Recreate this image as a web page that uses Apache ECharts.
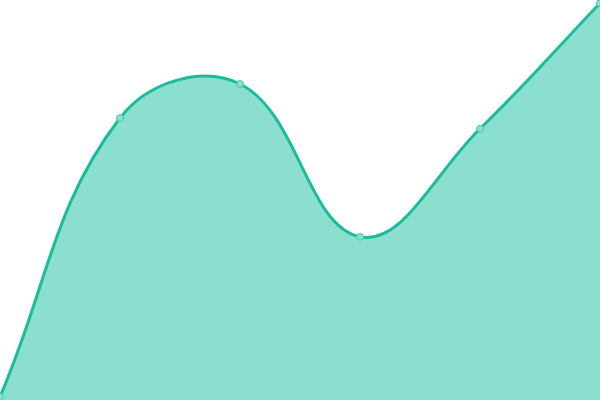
<!DOCTYPE html>
<html>
<head>
<meta charset="utf-8">
<script src="https://cdn.jsdelivr.net/npm/echarts@6/dist/echarts.min.js"></script>
<style>html,body{margin:0;padding:0;background:#fff}#c{width:600px;height:400px}</style>
</head>
<body>
<div id="c"></div>
<script>
const categories = ['A', 'B', 'C', 'D', 'E', 'F'];
const values = [0.8, 70.5, 79, 40.8, 67.8, 99.2];

const LINE = '#1abc9c';
const AREA = '#8adfcf';
const TENSION = 0.4;

// Cardinal-style bezier smoothing of the projected points
function buildPath(pts, W, H) {
  const n = pts.length;
  const cps = pts.map((cur, i) => {
    const prev = pts[i - 1] || cur, next = pts[i + 1] || cur;
    const d01 = Math.hypot(cur[0] - prev[0], cur[1] - prev[1]);
    const d12 = Math.hypot(next[0] - cur[0], next[1] - cur[1]);
    let s01 = d01 / (d01 + d12), s12 = d12 / (d01 + d12);
    s01 = isNaN(s01) ? 0 : s01; s12 = isNaN(s12) ? 0 : s12;
    const fa = TENSION * s01, fb = TENSION * s12;
    const c = (x, y) => [Math.max(0, Math.min(W, x)), Math.max(0, Math.min(H, y))];
    return {
      prev: c(cur[0] - fa * (next[0] - prev[0]), cur[1] - fa * (next[1] - prev[1])),
      next: c(cur[0] + fb * (next[0] - prev[0]), cur[1] + fb * (next[1] - prev[1]))
    };
  });
  let d = 'M' + pts[0][0] + ' ' + pts[0][1];
  for (let i = 1; i < n; i++) {
    const a = cps[i - 1].next, b = cps[i].prev, p = pts[i];
    d += ' C' + a[0] + ' ' + a[1] + ' ' + b[0] + ' ' + b[1] + ' ' + p[0] + ' ' + p[1];
  }
  return d;
}

const chart = echarts.init(document.getElementById('c'), null, {renderer: 'canvas'});
chart.setOption({
  animation: false,
  grid: {left: 0, right: 0, top: 0, bottom: 0},
  xAxis: {type: 'category', data: categories, boundaryGap: false, show: false},
  yAxis: {type: 'value', min: 0, max: 100, show: false},
  series: [{
    type: 'custom',
    data: [0],
    clip: false,
    renderItem: function (params, api) {
      const pts = values.map((v, i) => api.coord([i, v]));
      const base = api.coord([0, 0])[1];
      const W = api.getWidth(), H = api.getHeight();
      const curve = buildPath(pts, W, H);
      const last = pts[pts.length - 1], first = pts[0];
      const areaPath = curve + ' L' + last[0] + ' ' + base + ' L' + first[0] + ' ' + base + ' Z';
      return {
        type: 'group',
        children: [
          {type: 'path', shape: {pathData: areaPath}, style: {fill: AREA, stroke: null}},
          {type: 'path', shape: {pathData: curve}, style: {fill: null, stroke: LINE, lineWidth: 3}}
        ]
      };
    },
    z: 1
  }, {
    type: 'line',
    data: values,
    symbol: 'circle',
    symbolSize: 7,
    lineStyle: {width: 0, opacity: 0},
    itemStyle: {color: AREA, borderColor: '#45c9ad', borderWidth: 1},
    z: 3
  }]
});
</script>
</body>
</html>
